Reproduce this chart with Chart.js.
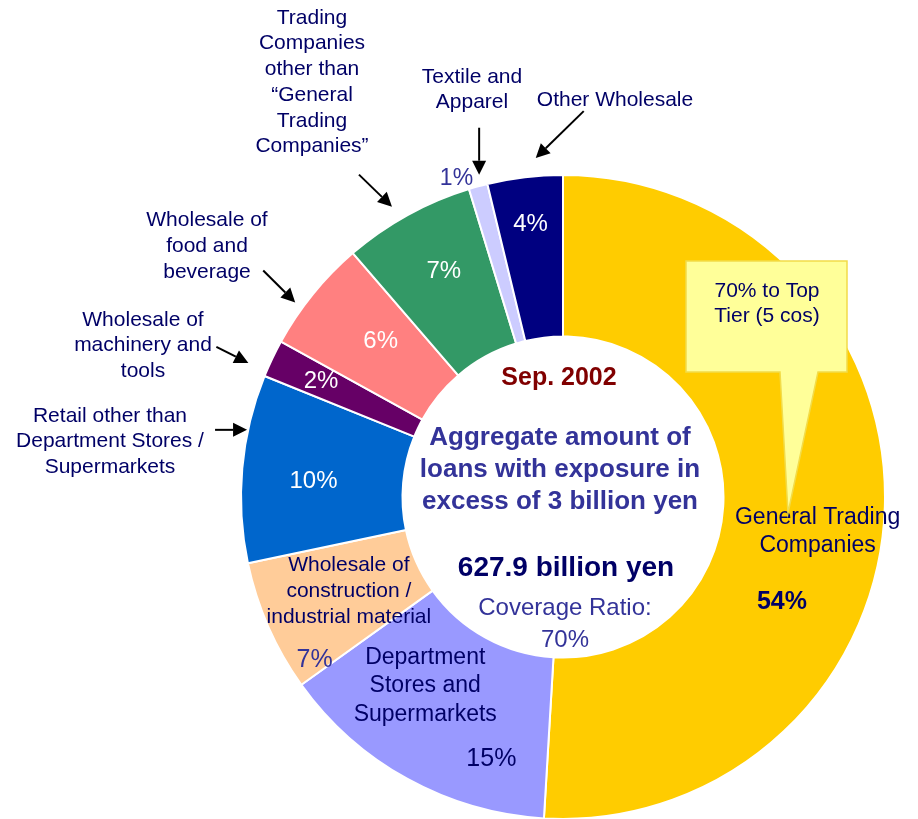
<!DOCTYPE html>
<html>
<head>
<meta charset="utf-8">
<script src="https://cdn.jsdelivr.net/npm/chart.js@4/dist/chart.umd.min.js"></script>
<style>
  html, body { margin: 0; padding: 0; background: #ffffff; }
  #wrap { width: 918px; height: 819px; position: relative; }
</style>
</head>
<body>
<div id="wrap"><canvas id="loans" width="918" height="819"></canvas></div>
<script>
// Sectors, clockwise from 12 o'clock
const sectors = [
  'General Trading Companies',
  'Department Stores and Supermarkets',
  'Wholesale of construction / industrial material',
  'Retail other than Department Stores / Supermarkets',
  'Wholesale of machinery and tools',
  'Wholesale of food and beverage',
  'Trading Companies other than “General Trading Companies”',
  'Textile and Apparel',
  'Other Wholesale'
];
// Share of aggregate loans (%)
const shares = [54, 15, 7, 10, 2, 6, 7, 1, 4];
const sliceColors = ['#FFCC00', '#9999FF', '#FFCC99', '#0066CC', '#660066',
                     '#FF8080', '#339966', '#CCCCFF', '#000080'];

// Center summary text
const periodLabel = 'Sep. 2002';
const headlineLines = ['Aggregate amount of', 'loans with exposure in', 'excess of 3 billion yen'];
const totalLabel = '627.9 billion yen';
const coverageLines = ['Coverage Ratio:', '70%'];
const calloutLines = ['70% to Top', 'Tier (5 cos)'];

const FONT = "'Liberation Sans', Arial, Helvetica, sans-serif";
const NAVY = '#000066';
const INDIGO = '#333399';

// Percentage labels inside (or just outside) each slice: angle offset from the slice middle, radius
const pctStyle = [
  { dAng: 24,   r: 243, color: NAVY,   bold: true,  size: 25 },
  { dAng: -13.6, r: 272, color: NAVY,  bold: false, size: 25 },
  { dAng: -9.5, r: 297, color: INDIGO, bold: false, size: 25 },
  { dAng: -1.5, r: 250, color: '#ffffff', bold: false, size: 24 },
  { dAng: 0,    r: 268, color: '#ffffff', bold: false, size: 24 },
  { dAng: 1.5,  r: 240, color: '#ffffff', bold: false, size: 24 },
  { dAng: 1,    r: 255, color: '#ffffff', bold: false, size: 24 },
  { dAng: -3.2, r: 336, color: INDIGO, bold: false, size: 23 },
  { dAng: 0,    r: 275, color: '#ffffff', bold: false, size: 24 }
];

// Names written on the slice itself
const innerNames = [
  { idx: 0, lines: ['General Trading', 'Companies'], dAng: 6.1, r: 257, size: 23, lh: 28 },
  { idx: 1, lines: ['Department', 'Stores and', 'Supermarkets'], dAng: 7.2, r: 234, size: 23, lh: 28.5 },
  { idx: 2, lines: ['Wholesale of', 'construction /', 'industrial material'], dAng: 0, r: 234, size: 21, lh: 26 }
];

// Names set outside the ring, with an arrow to the slice
const outerNames = [
  { idx: 6, lines: ['Trading', 'Companies', 'other than', '“General', 'Trading', 'Companies”'],
    x: 312, y: 18, lh: 25.7, tipAng: 329.5, tipR: 337, tail: [-33, -32] },
  { idx: 7, lines: ['Textile and', 'Apparel'], x: 472, y: 77, lh: 25.5,
    tipAng: 346.8, tipR: 333, tail: [0, -47] },
  { idx: 8, lines: ['Other Wholesale'], x: 615, y: 100, lh: 25,
    tipAng: 355.4, tipR: 340, tail: [48, -47] },
  { idx: 5, lines: ['Wholesale of', 'food and', 'beverage'], x: 207, y: 220, lh: 26,
    tipAng: 306, tipR: 331, tail: [-32, -32] },
  { idx: 4, lines: ['Wholesale of', 'machinery and', 'tools'], x: 143, y: 320, lh: 25.5,
    tipAng: 292.5, tipR: 342, tail: [-32, -16] },
  { idx: 3, lines: ['Retail other than', 'Department Stores /', 'Supermarkets'], x: 110, y: 416, lh: 25.5,
    tipAng: 282, tipR: 323, tail: [-32, 0] }
];

function textLines(ctx, lines, x, y, lh, font, color) {
  ctx.font = font;
  ctx.fillStyle = color;
  ctx.textAlign = 'center';
  ctx.textBaseline = 'middle';
  lines.forEach((s, k) => ctx.fillText(s, x, y + k * lh));
}

function arrow(ctx, x0, y0, x1, y1) {
  const a = Math.atan2(y1 - y0, x1 - x0);
  const len = 14, half = 7;
  const bx = x1 - len * Math.cos(a), by = y1 - len * Math.sin(a);
  ctx.strokeStyle = '#000000';
  ctx.lineWidth = 2;
  ctx.beginPath();
  ctx.moveTo(x0, y0);
  ctx.lineTo(bx, by);
  ctx.stroke();
  ctx.fillStyle = '#000000';
  ctx.beginPath();
  ctx.moveTo(x1, y1);
  ctx.lineTo(bx + half * Math.sin(a), by - half * Math.cos(a));
  ctx.lineTo(bx - half * Math.sin(a), by + half * Math.cos(a));
  ctx.closePath();
  ctx.fill();
}

const annotationPlugin = {
  id: 'sectorAnnotations',
  afterDraw(chart) {
    const ctx = chart.ctx;
    const arcs = chart.getDatasetMeta(0).data;
    const cx = arcs[0].x, cy = arcs[0].y;
    // angle in degrees, clockwise from 12 o'clock
    const polar = (deg, r) => {
      const a = (deg - 90) * Math.PI / 180;
      return [cx + r * Math.cos(a), cy + r * Math.sin(a)];
    };
    const span = i => {
      const p = arcs[i].getProps(['startAngle', 'endAngle'], true);
      return [p.startAngle * 180 / Math.PI + 90, p.endAngle * 180 / Math.PI + 90];
    };
    const mid = i => { const s = span(i); return (s[0] + s[1]) / 2; };

    ctx.save();

    // percentage labels
    shares.forEach((v, i) => {
      const st = pctStyle[i];
      const [x, y] = polar(mid(i) + st.dAng, st.r);
      textLines(ctx, [v + '%'], x, y, 0,
        (st.bold ? 'bold ' : '') + st.size + 'px ' + FONT, st.color);
    });

    // names on the slices
    innerNames.forEach(n => {
      const [x, y] = polar(mid(n.idx) + n.dAng, n.r);
      const y0 = y - (n.lines.length - 1) * n.lh / 2;
      textLines(ctx, n.lines, x, y0, n.lh, n.size + 'px ' + FONT, NAVY);
    });

    // names outside with arrows
    outerNames.forEach(n => {
      textLines(ctx, n.lines, n.x, n.y, n.lh, '21px ' + FONT, NAVY);
      const s = span(n.idx);
      const m = Math.min(1, (s[1] - s[0]) / 3);
      const ang = Math.max(s[0] + m, Math.min(s[1] - m, n.tipAng));
      const [tx, ty] = polar(ang, n.tipR);
      arrow(ctx, tx + n.tail[0], ty + n.tail[1], tx, ty);
    });

    // center summary
    textLines(ctx, [periodLabel], cx - 4, cy - 119, 0, 'bold 25px ' + FONT, '#800000');
    textLines(ctx, headlineLines, cx - 3, cy - 59, 32, 'bold 26px ' + FONT, INDIGO);
    textLines(ctx, [totalLabel], cx + 3, cy + 71, 0, 'bold 28px ' + FONT, NAVY);
    textLines(ctx, coverageLines, cx + 2, cy + 111, 32, '24px ' + FONT, INDIGO);

    // "top tier" speech callout
    ctx.beginPath();
    ctx.moveTo(686, 261);
    ctx.lineTo(847, 261);
    ctx.lineTo(847, 372);
    ctx.lineTo(818, 372);
    ctx.lineTo(788, 513);
    ctx.lineTo(780, 372);
    ctx.lineTo(686, 372);
    ctx.closePath();
    ctx.fillStyle = '#FFFF99';
    ctx.fill();
    ctx.strokeStyle = '#F2DC4A';
    ctx.lineWidth = 1.5;
    ctx.stroke();
    textLines(ctx, calloutLines, 767, 291, 25, '21px ' + FONT, NAVY);

    ctx.restore();
  }
};

new Chart(document.getElementById('loans'), {
  type: 'doughnut',
  data: {
    labels: sectors,
    datasets: [{
      data: shares,
      backgroundColor: sliceColors,
      borderColor: '#ffffff',
      borderWidth: 2
    }]
  },
  options: {
    responsive: false,
    animation: false,
    devicePixelRatio: 1,
    radius: 322,
    cutout: 160,
    rotation: 0,
    layout: { padding: { left: 241, right: 33, top: 175, bottom: 0 } },
    plugins: {
      legend: { display: false },
      tooltip: { enabled: false }
    }
  },
  plugins: [annotationPlugin]
});
</script>
</body>
</html>
